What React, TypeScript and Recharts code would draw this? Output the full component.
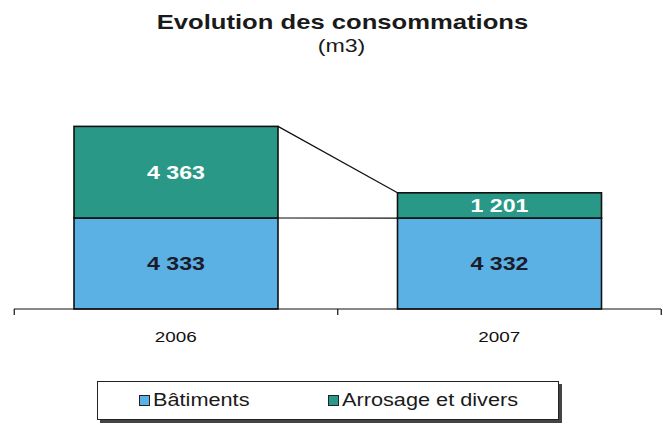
import { Bar, BarChart, LabelList, XAxis, YAxis } from 'recharts';

const categories = ['2006', '2007'];
const batiments = [4333, 4332];
const arrosage = [4363, 1201];
const seriesNames = ['Bâtiments', 'Arrosage et divers'];
const seriesColors = ['#5bb1e3', '#2a9886'];

const data = categories.map((year, i) => ({
  year,
  batiments: batiments[i],
  arrosage: arrosage[i],
}));

const FONT = '"Liberation Sans", Arial, sans-serif';
const STRETCH = 1.22;

const fmt = (n: number) => String(n).replace(/\B(?=(\d{3})+(?!\d))/g, ' ');

// bar rectangles as placed by recharts, used for the series lines
const placed: Record<string, { x: number; y: number; w: number; h: number }[]> = {
  batiments: [],
  arrosage: [],
};

const makeShape = (key: string) => (props: any) => {
  const { x, y, width, height, index, fill } = props;
  placed[key][index] = { x, y, w: width, h: height };
  let extra = null;
  if (key === 'arrosage' && index === 1 && placed.batiments[1]) {
    const a0 = placed.arrosage[0];
    const a1 = placed.arrosage[1];
    const b0 = placed.batiments[0];
    const b1 = placed.batiments[1];
    const gap = (a1.x - (a0.x + a0.w)) / 2;
    const base = b0.y + b0.h;
    const ticks = [a0.x - gap, a0.x + a0.w + gap, a1.x + a1.w + gap];
    extra = (
      <g stroke="#111" strokeWidth={1.2}>
        <line x1={a0.x + a0.w} y1={a0.y} x2={a1.x} y2={a1.y} />
        <line x1={b0.x + b0.w} y1={b0.y} x2={b1.x} y2={b1.y} />
        {ticks.map((t, i) => (
          <line key={i} x1={t} y1={base} x2={t} y2={base + 6} />
        ))}
      </g>
    );
  }
  return (
    <g>
      <rect x={x} y={y} width={width} height={height} fill={fill} stroke="#111" strokeWidth={1.6} />
      {extra}
    </g>
  );
};

const makeLabel = (color: string) => (props: any) => {
  const { x, y, width, height, value } = props;
  return (
    <text
      transform={`translate(${x + width / 2},${y + height / 2}) scale(${STRETCH},1)`}
      textAnchor="middle"
      dominantBaseline="central"
      fill={color}
      fontFamily={FONT}
      fontWeight="bold"
      fontSize={19}
    >
      {fmt(value)}
    </text>
  );
};

const YearTick = (props: any) => {
  const { x, y, payload } = props;
  return (
    <text
      transform={`translate(${x},${y + 20}) scale(${STRETCH},1)`}
      textAnchor="middle"
      dominantBaseline="central"
      fill="#111"
      fontFamily={FONT}
      fontSize={15.5}
    >
      {payload.value}
    </text>
  );
};

const ConsumptionChart = () => {
  return (
    <div style={{ position: 'absolute', left: 0, top: 0, width: 663, height: 425, background: '#fff', fontFamily: FONT }}>
      <div
        style={{
          position: 'absolute',
          left: 0,
          width: 663,
          top: 10,
          textAlign: 'center',
          color: '#1a1a1a',
          lineHeight: '24px',
        }}
      >
        <div style={{ fontSize: 21, fontWeight: 'bold', transform: `scaleX(${STRETCH})`, marginLeft: 22 }}>
          Evolution des consommations
        </div>
        <div style={{ fontSize: 19, transform: `scaleX(${STRETCH})`, marginLeft: 20 }}>(m3)</div>
      </div>

      <BarChart
        width={663}
        height={425}
        data={data}
        margin={{ top: 99, right: 2, bottom: 86, left: 14 }}
      >
        <XAxis
          dataKey="year"
          axisLine={{ stroke: '#111', strokeWidth: 1.2 }}
          tickLine={false}
          tick={<YearTick />}
          height={30}
          interval={0}
        />
        <YAxis hide domain={[0, 10000]} />
        <Bar
          dataKey="batiments"
          name={seriesNames[0]}
          stackId="a"
          barSize={204}
          fill={seriesColors[0]}
          shape={makeShape('batiments')}
          isAnimationActive={false}
        >
          <LabelList dataKey="batiments" content={makeLabel('#1b1b2b')} />
        </Bar>
        <Bar
          dataKey="arrosage"
          name={seriesNames[1]}
          stackId="a"
          barSize={204}
          fill={seriesColors[1]}
          shape={makeShape('arrosage')}
          isAnimationActive={false}
        >
          <LabelList dataKey="arrosage" content={makeLabel('#ffffff')} />
        </Bar>
      </BarChart>

      <div
        style={{
          position: 'absolute',
          left: 97,
          top: 381,
          width: 460,
          height: 37,
          border: '1px solid #222',
          background: '#fff',
          boxShadow: '3px 3px 0 #444',
        }}
      >
        {seriesNames.map((name, i) => (
          <div
            key={name}
            style={{
              position: 'absolute',
              left: i === 0 ? 41 : 230,
              top: 0,
              height: 37,
              display: 'flex',
              alignItems: 'center',
            }}
          >
            <span
              style={{
                width: 9,
                height: 9,
                border: '1.5px solid #222',
                background: seriesColors[i],
                marginRight: 3,
              }}
            />
            <span style={{ fontSize: 17.5, color: '#1a1a1a', transform: `scaleX(1.24)`, transformOrigin: 'left center' }}>
              {name}
            </span>
          </div>
        ))}
      </div>
    </div>
  );
};

export default function App() {
  return <ConsumptionChart />;
}
